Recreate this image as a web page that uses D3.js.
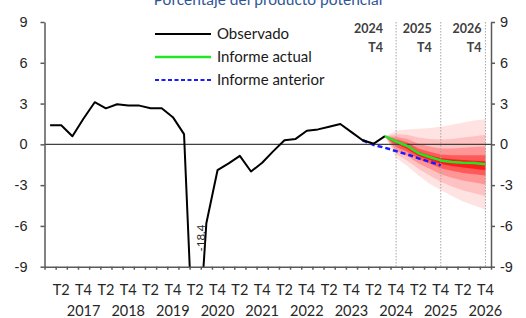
<!DOCTYPE html>
<html>
<head>
<meta charset="utf-8">
<script src="https://cdn.jsdelivr.net/npm/d3@7"></script>
<style>
  body { margin: 0; background: #fff; }
  svg { display: block; font-family: Lato, "Open Sans", sans-serif; }
  .axis text { fill: #262626; font-size: 14.5px; }
  .axis path, .axis line { stroke: #595959; }
</style>
</head>
<body>
<svg id="chart"></svg>
<script>
// categories
const years = [2017, 2018, 2019, 2020, 2021, 2022, 2023, 2024, 2025, 2026];
const qtrs = ["T1", "T2", "T3", "T4"];
const yTicks = [-9, -6, -3, 0, 3, 6, 9];

// observed, from 2017 T1
const observed = [1.4, 1.4, 0.6, 1.9, 3.1, 2.65, 2.95, 2.85, 2.85, 2.65, 2.65, 2.0,
  0.75, -18.4, -5.8, -1.9, -1.4, -0.85, -2.0, -1.35, -0.5, 0.3, 0.4, 1.0,
  1.1, 1.3, 1.5, 0.9, 0.3, 0.05, 0.6];

// informe actual, from 2024 T3
const currentStart = 30;
const current = [0.6, 0.2, -0.12, -0.65, -0.93, -1.18, -1.3, -1.35, -1.38, -1.47];

// informe anterior, from 2024 T1
const previousStart = 28;
const previous = [0.3, -0.05, -0.25, -0.5, -0.74, -1.03, -1.28, -1.55];

// fan bands (from 2024 T3), outer to inner
const fanU90 = [0.6, 1.0, 1.1, 1.15, 1.2, 1.3, 1.45, 1.6, 1.75, 1.85];
const fanL90 = [0.6, -1.0, -1.6, -2.3, -2.9, -3.35, -3.8, -4.2, -4.5, -4.8];
const fanU70 = [0.6, 0.75, 0.7, 0.5, 0.4, 0.35, 0.4, 0.5, 0.6, 0.7];
const fanL70 = [0.6, -0.7, -1.2, -1.8, -2.3, -2.75, -3.1, -3.4, -3.6, -3.8];
const fanU50 = [0.6, 0.55, 0.4, 0.05, -0.15, -0.3, -0.3, -0.25, -0.2, -0.15];
const fanL50 = [0.6, -0.45, -0.85, -1.4, -1.8, -2.2, -2.45, -2.65, -2.8, -2.95];
const fanU30 = [0.6, 0.4, 0.15, -0.3, -0.55, -0.75, -0.8, -0.8, -0.8, -0.8];
const fanL30 = [0.6, -0.2, -0.55, -1.1, -1.4, -1.75, -1.95, -2.1, -2.2, -2.3];
const fanU10 = [0.6, 0.25, -0.05, -0.55, -0.8, -1.0, -1.1, -1.15, -1.2, -1.25];
const fanL10 = [0.6, 0.05, -0.35, -0.85, -1.15, -1.45, -1.6, -1.7, -1.8, -1.9];

// projection markers
const markers = [{ year: "2024", q: "T4", idx: 31 }, { year: "2025", q: "T4", idx: 35 }, { year: "2026", q: "T4", idx: 39 }];

const W = 526, H = 318;
const pLeft = 44.5, pRight = 491, pTop = 22, pBottom = 266.7;

const svg = d3.select("#chart").attr("width", W).attr("height", H);

const categories = years.flatMap(yr => qtrs.map(q => ({ yr, q })));
const x = d3.scaleBand().domain(d3.range(categories.length)).range([pLeft, pRight]);
const xc = i => x(i) + x.bandwidth() / 2;
const xLin = d3.scaleLinear().domain([0, categories.length]).range([pLeft, pRight]);
const y = d3.scaleLinear().domain([-9, 9]).range([pBottom, pTop]);

svg.append("defs").append("clipPath").attr("id", "plot")
  .append("rect").attr("x", pLeft).attr("y", pTop).attr("width", pRight - pLeft).attr("height", pBottom - pTop);

// title (cut off at top, as in the source)
svg.append("text")
  .attr("x", 268).attr("y", 5)
  .attr("text-anchor", "middle")
  .attr("fill", "#2f5597")
  .style("font-size", "15.5px")
  .text("Porcentaje del producto potencial");

// fan
const fan = svg.append("g").attr("clip-path", "url(#plot)");
const bands = [
  { up: fanU90, lo: fanL90, color: "#ffe3e3" },
  { up: fanU70, lo: fanL70, color: "#ffc2c2" },
  { up: fanU50, lo: fanL50, color: "#ff9696" },
  { up: fanU30, lo: fanL30, color: "#ff5a5a" },
  { up: fanU10, lo: fanL10, color: "#ff1c1c" }
];
bands.forEach(b => {
  const area = d3.area()
    .x((d, i) => xc(currentStart + i))
    .y0((d, i) => y(b.lo[i]))
    .y1(d => y(d));
  fan.append("path").datum(b.up).attr("d", area).attr("fill", b.color);
});

// dotted verticals + labels
markers.forEach((m, k) => {
  const xm = xc(m.idx);
  svg.append("line")
    .attr("x1", xm).attr("x2", xm).attr("y1", pTop).attr("y2", pBottom)
    .attr("stroke", "#a6a6a6").attr("stroke-width", 1).attr("stroke-dasharray", "1.5,1.5");
  const tx = xm - [13, 9, 4][k];
  svg.append("text").attr("x", tx).attr("y", 33).attr("text-anchor", "end")
    .attr("fill", "#404040").style("font-size", "12.5px").style("font-weight", "bold").text(m.year);
  svg.append("text").attr("x", tx).attr("y", 52).attr("text-anchor", "end")
    .attr("fill", "#404040").style("font-size", "12.5px").style("font-weight", "bold").text(m.q);
});

// zero line
svg.append("line")
  .attr("x1", pLeft).attr("x2", pRight).attr("y1", y(0)).attr("y2", y(0))
  .attr("stroke", "#404040").attr("stroke-width", 1.3);

// axes (plain hyphen for negatives)
const fmt = d => String(d);
const yAxisL = d3.axisLeft(y).tickValues(yTicks).tickSize(4).tickSizeOuter(0).tickPadding(13).tickFormat(fmt);
svg.append("g").attr("class", "axis").attr("transform", `translate(${pLeft},0)`).call(yAxisL);
const yAxisR = d3.axisRight(y).tickValues(yTicks).tickSize(4).tickSizeOuter(0).tickPadding(5).tickFormat(fmt);
svg.append("g").attr("class", "axis").attr("transform", `translate(${pRight},0)`).call(yAxisR);
const xAxis = d3.axisBottom(xLin).tickValues(d3.range(categories.length + 1)).tickSize(3).tickSizeOuter(0).tickFormat("");
svg.append("g").attr("class", "axis").attr("transform", `translate(0,${pBottom})`).call(xAxis);
svg.selectAll(".axis path, .axis line").attr("stroke-width", 1.5);

// x labels
const xl = svg.append("g").attr("class", "axis");
categories.forEach((c, i) => {
  if (c.q === "T2" || c.q === "T4") {
    xl.append("text").attr("x", xc(i)).attr("y", 295).attr("text-anchor", "middle").text(c.q);
  }
  if (c.q === "T4") {
    xl.append("text").attr("x", xc(i)).attr("y", 316).attr("text-anchor", "middle").text(c.yr);
  }
});

// lines
const plot = svg.append("g").attr("clip-path", "url(#plot)");
const line = start => d3.line().x((d, i) => xc(start + i)).y(d => y(d));
plot.append("path").datum(previous).attr("d", line(previousStart))
  .attr("fill", "none").attr("stroke", "#1a1aff").attr("stroke-width", 2.5).attr("stroke-dasharray", "5,3");
plot.append("path").datum(observed).attr("d", line(0))
  .attr("fill", "none").attr("stroke", "#000").attr("stroke-width", 2).attr("stroke-linejoin", "round");
plot.append("path").datum(current).attr("d", line(currentStart))
  .attr("fill", "none").attr("stroke", "#22e622").attr("stroke-width", 2.5).attr("stroke-linejoin", "round");

// -18.4 annotation
const minIdx = observed.indexOf(d3.min(observed));
svg.append("text")
  .attr("transform", `translate(${xc(minIdx) + 6},${238}) rotate(-90)`)
  .attr("text-anchor", "middle").attr("dy", "0.35em")
  .attr("fill", "#262626").style("font-size", "11.5px")
  .text(observed[minIdx]);

// legend
const legend = [
  { name: "Observado", color: "#000", dash: null, w: 2 },
  { name: "Informe actual", color: "#22e622", dash: null, w: 2.5 },
  { name: "Informe anterior", color: "#1a1aff", dash: "4,2.5", w: 2 }
];
legend.forEach((l, i) => {
  const ly = 34 + i * 23;
  svg.append("line").attr("x1", 155).attr("x2", 211).attr("y1", ly).attr("y2", ly)
    .attr("stroke", l.color).attr("stroke-width", l.w).attr("stroke-dasharray", l.dash);
  svg.append("text").attr("x", 217).attr("y", ly + 5).attr("fill", "#1a1a1a")
    .style("font-size", "15px").text(l.name);
});
</script>
</body>
</html>
